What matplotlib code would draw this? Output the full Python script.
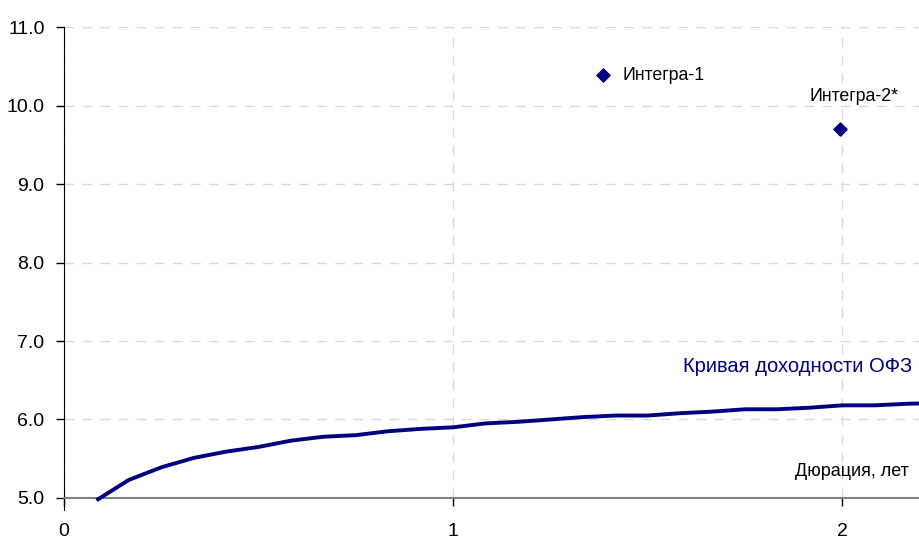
import matplotlib.pyplot as plt
from matplotlib import font_manager

names = {f.name for f in font_manager.fontManager.ttflist}
fam = "Liberation Sans Narrow" if "Liberation Sans Narrow" in names else "Liberation Sans"
plt.rcParams["font.family"] = [fam, "DejaVu Sans"]

# OFZ yield curve, monthly duration points
duration = [k / 12 for k in range(1, 28)]
yld = [4.97, 5.23, 5.39, 5.51, 5.59, 5.65, 5.73, 5.78, 5.80, 5.85, 5.88, 5.90, 5.95,
       5.97, 6.00, 6.03, 6.05, 6.05, 6.08, 6.10, 6.13, 6.13, 6.15, 6.18, 6.18, 6.20, 6.21]

bond_names = ["Интегра-1", "Интегра-2*"]
bond_dur = [1.386, 1.995]
bond_yld = [10.39, 9.70]

navy = "#000080"

fig = plt.figure(figsize=(9.2, 5.43), dpi=100)
ax = fig.add_axes([0.0696, 0.083, 0.9304, 0.867])

ax.plot(duration, yld, color=navy, lw=2.8, solid_capstyle="butt", zorder=3, clip_on=False)
ax.scatter(bond_dur, bond_yld, marker="D", s=45, color=navy, zorder=4)

ax.text(bond_dur[0] + 0.05, bond_yld[0], bond_names[0], fontsize=12.8, va="center", ha="left")
ax.text(bond_dur[1] - 0.08, bond_yld[1] + 0.41, bond_names[1], fontsize=12.8, va="center", ha="left")
ax.text(2.18, 6.67, "Кривая доходности ОФЗ", fontsize=14.5, color=navy, va="center", ha="right")
ax.text(2.17, 5.34, "Дюрация, лет", fontsize=13, va="center", ha="right")

ax.set_xlim(0, 2.2)
ax.set_ylim(5.0, 11.0)
ax.set_xticks([0, 1, 2])
ax.set_xticklabels(["0", "1", "2"])
ax.set_yticks([5, 6, 7, 8, 9, 10, 11])
ax.set_yticklabels([f"{v:.1f}" for v in range(5, 12)])
ax.tick_params(axis="both", direction="out", length=6, width=1, labelsize=14, color="black")
ax.tick_params(axis="x", pad=12)
ax.tick_params(axis="y", pad=8)

ax.grid(True, color="#d9d9d9", linestyle=(0, (7, 6)), lw=1)
ax.set_axisbelow(True)
for s in ["top", "right"]:
    ax.spines[s].set_visible(False)
ax.spines["left"].set_color("black")
ax.spines["bottom"].set_color("#808080")
ax.spines["bottom"].set_linewidth(1.5)
ax.spines["left"].set_bounds(4.85, 11.0)

fig.savefig("out.png", dpi=100)
